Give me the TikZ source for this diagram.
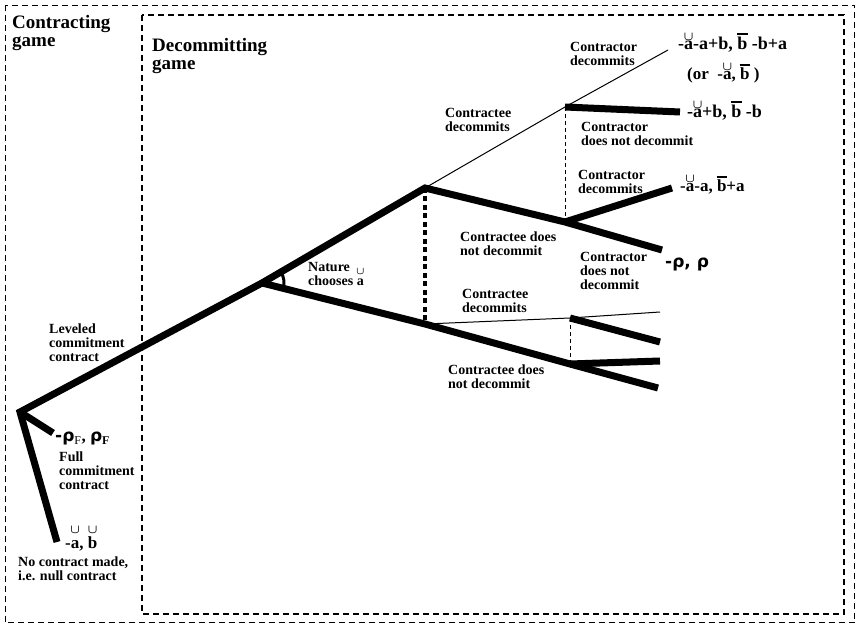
\documentclass[tikz,border=0pt]{standalone}
\usepackage{fontspec}
\setmainfont{Liberation Serif}
\newfontfamily\rhof{DejaVu Sans}
\usepackage{graphicx}
\newcommand\cupon[2][0.55em]{\ooalign{#2\cr\hidewidth\smash{\raisebox{#1}{\scalebox{0.72}{\boldmath$\cup$}}}\hidewidth\cr}}
\newcommand\ovl[1]{\ooalign{#1\cr\hidewidth\smash{\rule[0.82em]{0.6em}{0.13em}}\hidewidth\cr}}
\begin{document}
\begin{tikzpicture}[x=1pt,y=-1pt,
  thk/.style={line width=7pt},
  thn/.style={line width=1pt},
  infodash/.style={line width=1pt, dash pattern=on 4pt off 3pt},
  infodot/.style={line width=4.5pt, dash pattern=on 5pt off 3.5pt},
  boxdash/.style={line width=1.1pt, dash pattern=on 6pt off 4pt},
  lab/.style={font=\bfseries\fontsize{14}{14}\selectfont, align=left, anchor=north west, inner sep=0pt},
  ttl/.style={font=\bfseries\fontsize{19}{18}\selectfont, align=left, anchor=north west, inner sep=0pt},
  pay/.style={font=\bfseries\fontsize{17}{17}\selectfont, anchor=base west, inner sep=0pt},
  bigpay/.style={pay, font=\bfseries\fontsize{18}{18}\selectfont}]
\useasboundingbox (0,0) rectangle (860,628);
\fill[white] (0,0) rectangle (860,628);
% frames
\draw[boxdash] (5.5,5.5) rectangle (854.5,622.5);
\draw[boxdash] (142,15) rectangle (844,614);
% tree points
\coordinate (R) at (20,412);
\coordinate (N) at (262,283);
\coordinate (U) at (425,188);
\coordinate (L) at (425,324);
\coordinate (UA) at (565,107);
\coordinate (UAe) at (668,50);
\coordinate (UAn) at (680,112);
\coordinate (UB) at (565,222);
\coordinate (UBd) at (672,188);
\coordinate (UBn) at (662,250);
\coordinate (LA) at (570,318);
\coordinate (LAe) at (660,312);
\coordinate (LAn) at (660,342);
\coordinate (LB) at (570,364);
\coordinate (LBd) at (660,361);
\coordinate (LBn) at (658,388);
\coordinate (F) at (53,433);
\coordinate (Z) at (57,542);
% thin branches
\draw[thn] (U) -- (UA) -- (UAe);
\draw[thn] (L) -- (LA) -- (LAe);
% information sets
\draw[infodash] (UA) -- (UB);
\draw[infodash] (LA) -- (LB);
\draw[infodot] (U) -- (L);
% thick branches
\draw[thk] (Z) -- (R) -- (N) -- (U) -- (UB) -- (UBn);
\draw[thk] (R) -- (F);
\draw[thk] (N) -- (L) -- (LB) -- (LBn);
\draw[thk] (UB) -- (UBd);
\draw[thk] (UA) -- (UAn);
\draw[thk] (LA) -- (LAn);
\draw[thk] (LB) -- (LBd);
% nature angle
\draw[line width=3pt] (N) ++(-30:22) arc[start angle=-30, end angle=14, radius=22];
% titles
\node[ttl] (tc) at (12,15) {Contracting\\game};
\node[ttl] (td) at (152,38) {Decommitting\\game};
% labels
\node[lab] (l1) at (570,42) {Contractor\\decommits};
\node[lab] (l2) at (581,122) {Contractor\\does not decommit};
\node[lab] (l3) at (445,108) {Contractee\\decommits};
\node[lab] (l4) at (578,170) {Contractor\\decommits};
\node[lab] (l5) at (460,232) {Contractee does\\not decommit};
\node[lab] (l6) at (580,252) {Contractor\\does not\\decommit};
\node[lab] (l7) at (308,262) {Nature\\chooses \cupon[0.8em]{a}};
\node[lab] (l8) at (462,289) {Contractee\\decommits};
\node[lab] (l9) at (448,365) {Contractee does\\not decommit};
\node[lab] (l10) at (49,324) {Leveled\\commitment\\contract};
\node[lab] (l11) at (59,452) {Full\\commitment\\contract};
\node[lab] (l12) at (18,557) {No contract made,\\i.e. null contract};
% payoffs
\node[bigpay] (p1) at (678,50) {-\cupon{a}-a+b, \ovl{b} -b+a};
\node[pay] (p1b) at (687,80) {(or\ \ -\cupon{a}, \ovl{b} )};
\node[bigpay] (p2) at (687,118) {-\cupon{a}+b, \ovl{b} -b};
\node[pay] (p3) at (680,192) {-\cupon{a}-a, \ovl{b}+a};
\node[pay] (p4) at (665,268) {\rhof -ρ, ρ};
\node[pay] (p5) at (55,442) {{\rhof -ρ}{\mdseries\textsubscript{F}}, {\rhof ρ}\textsubscript{F}};
\node[pay] (p6) at (65,548) {-\cupon[0.85em]{a}, \cupon[0.85em]{b}};
\end{tikzpicture}
\end{document}
